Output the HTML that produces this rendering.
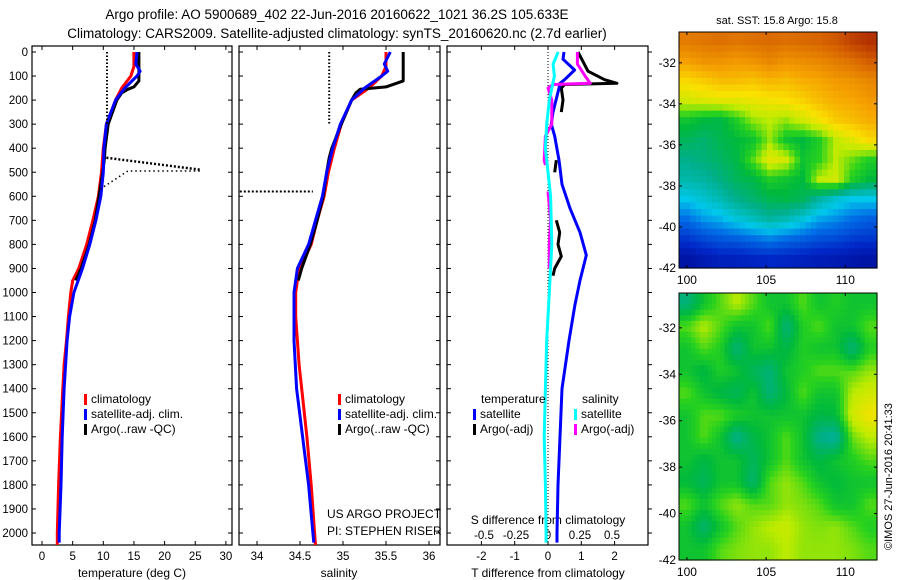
<!DOCTYPE html>
<html><head><meta charset="utf-8">
<style>
html,body{margin:0;padding:0;background:#fff;}
svg{display:block;font-family:"Liberation Sans",sans-serif;}
text{fill:#000;}
</style></head>
<body>
<svg id="fig" width="900" height="580" viewBox="0 0 900 580" xmlns="http://www.w3.org/2000/svg">
<text x="337" y="19" font-size="13.5" text-anchor="middle">Argo profile: AO 5900689_402 22-Jun-2016 20160622_1021 36.2S 105.633E</text>
<text x="337" y="38" font-size="13.5" text-anchor="middle">Climatology: CARS2009. Satellite-adjusted climatology: synTS_20160620.nc (2.7d earlier)</text>
<text x="777" y="24" font-size="11" text-anchor="middle">sat. SST: 15.8 Argo: 15.8</text>
<text x="777" y="302" font-size="11" text-anchor="middle">Altim. SLA: 0.12</text>
<text x="777" y="316" font-size="11" text-anchor="middle">Argo h1000: NaN h2000: NaN</text>
<text transform="translate(892,550) rotate(-90)" font-size="11">©IMOS 27-Jun-2016 20:41:33</text>
<text x="327" y="518" font-size="12">US ARGO PROJECT</text>
<text x="327" y="535" font-size="12">PI: STEPHEN RISER</text>
</svg>
<script>
const depthTicks = [0,100,200,300,400,500,600,700,800,900,1000,1100,1200,1300,1400,1500,1600,1700,1800,1900,2000];
const tempTicks = [0,5,10,15,20,25,30];
const salTicks = [34,34.5,35,35.5,36];
const salTickLabels = ["34","34.5","35","35.5","36"];
const tdTicks = [-2,-1,0,1,2];
const sdTicks = [-0.5,-0.25,0,0.25,0.5];
const sdTickLabels = ["-0.5","-0.25","0","0.25","0.5"];

const climDepth = [0,60,100,150,200,300,400,500,600,700,800,900,950,1000,1100,1200,1300,1400,1600,1800,2000,2050];
const climTemp = [15.0,15.0,14.5,13.0,12.0,10.5,10.0,9.7,9.2,8.3,7.3,6.0,5.0,4.7,4.3,4.0,3.6,3.4,3.0,2.7,2.5,2.5];
const climSal = [35.5,35.5,35.45,35.3,35.1,34.98,34.9,34.83,34.78,34.7,34.63,34.5,34.47,34.45,34.45,34.47,34.49,34.52,34.58,34.63,34.67,34.68];

const satDepth = [0,50,80,100,150,200,300,400,500,600,700,800,900,1000,1100,1200,1400,1600,1800,2000,2040];
const satTemp = [15.5,15.3,16.0,15.5,13.5,12.0,10.5,10.1,10.0,9.6,8.8,7.8,6.6,5.2,4.5,4.1,3.6,3.3,3.1,2.8,2.8];
const satSal = [35.55,35.48,35.52,35.45,35.25,35.1,34.97,34.88,34.81,34.76,34.68,34.6,34.47,34.43,34.43,34.43,34.46,34.53,34.6,34.65,34.66];

const argoDepth = [0,120,145,155,170,200,300,400,440,500,600,700,800,900,950];
const argoTemp = [15.8,15.8,15.0,14.0,13.0,12.2,10.8,10.3,10.2,9.9,9.3,8.7,7.7,6.4,5.5];
const argoSal = [35.7,35.7,35.5,35.2,35.15,35.1,34.98,34.87,34.84,34.81,34.77,34.7,34.62,34.52,34.48];

const dotTdepth1 = [0,300]; const dotTval1 = [10.6,10.6];
const dotTdepth2 = [440,490]; const dotTval2 = [10.5,26];
const dotTdepth3 = [570,495,495]; const dotTval3 = [9.5,14,26];
const dotSdepth1 = [0,300]; const dotSval1 = [34.84,34.84];
const dotSdepth2 = [580,580]; const dotSval2 = [33.8,34.65];

const satTdDepth = [0,30,75,115,130,150,250,300,350,450,550,650,750,845,950,1050,1200,1400,1600,1800,2000,2040];
const satTd = [0.48,0.45,0.8,0.5,0.36,0.33,0.15,0.1,0.2,0.33,0.42,0.66,0.96,1.15,0.96,0.81,0.63,0.42,0.36,0.3,0.27,0.27];
const argoTdDepth = [0,40,80,115,130,135,150,200,250,null,450,500,null,700,750,800,850,900,930];
const argoTd = [0.9,1.05,1.2,1.7,2.07,0.5,0.4,0.45,0.4,null,0.25,0.2,null,0.25,0.35,0.3,0.4,0.2,0.15];
const argoSdDepth = [0,50,100,130,135,150,200,300,350,450,470,null,580,700,800,900];
const argoSd = [0.23,0.23,0.29,0.33,0.04,0.0,0.03,0.03,-0.02,-0.03,-0.02,null,0.0,0.02,0.01,0.01];
const satSdDepth = [0,50,100,200,300,400,600,800,1000,1200,1400,1600,1800,2000,2040];
const satSd = [0.08,0.04,0.05,0.01,-0.01,-0.02,0.02,0.03,0.01,-0.01,-0.02,-0.03,-0.02,-0.015,-0.015];

const sstGrid = [
[0.82,0.83,0.84,0.83,0.84,0.85,0.84,0.85,0.86,0.88,0.92,0.95],
[0.76,0.78,0.78,0.77,0.78,0.8,0.78,0.79,0.8,0.82,0.84,0.87],
[0.68,0.7,0.72,0.72,0.71,0.73,0.72,0.74,0.75,0.77,0.78,0.8],
[0.62,0.63,0.64,0.64,0.65,0.66,0.67,0.69,0.72,0.74,0.75,0.77],
[0.5,0.48,0.47,0.52,0.58,0.6,0.58,0.62,0.66,0.7,0.72,0.74],
[0.45,0.43,0.46,0.48,0.5,0.58,0.5,0.48,0.52,0.6,0.64,0.68],
[0.4,0.42,0.44,0.47,0.55,0.64,0.62,0.5,0.53,0.6,0.56,0.52],
[0.37,0.38,0.41,0.45,0.47,0.52,0.5,0.48,0.6,0.62,0.52,0.48],
[0.3,0.33,0.36,0.4,0.43,0.46,0.47,0.45,0.38,0.33,0.3,0.3],
[0.22,0.26,0.28,0.32,0.35,0.38,0.36,0.32,0.27,0.25,0.22,0.2],
[0.14,0.17,0.19,0.2,0.22,0.24,0.22,0.2,0.18,0.17,0.15,0.14],
[0.06,0.08,0.1,0.1,0.11,0.12,0.11,0.1,0.09,0.08,0.07,0.06]];
const slaGrid = [
[0.42,0.5,0.55,0.6,0.55,0.5,0.5,0.55,0.5,0.52,0.5,0.5],
[0.55,0.6,0.55,0.5,0.5,0.55,0.42,0.52,0.55,0.5,0.5,0.55],
[0.5,0.55,0.52,0.42,0.5,0.5,0.47,0.52,0.5,0.5,0.42,0.52],
[0.5,0.47,0.52,0.5,0.45,0.42,0.5,0.52,0.55,0.55,0.55,0.58],
[0.55,0.5,0.47,0.45,0.5,0.42,0.48,0.55,0.5,0.5,0.6,0.62],
[0.5,0.55,0.55,0.52,0.5,0.5,0.5,0.5,0.47,0.48,0.62,0.66],
[0.5,0.55,0.5,0.4,0.47,0.5,0.55,0.5,0.4,0.38,0.56,0.6],
[0.5,0.47,0.5,0.5,0.45,0.5,0.55,0.5,0.47,0.5,0.52,0.55],
[0.48,0.45,0.5,0.5,0.43,0.55,0.58,0.55,0.5,0.48,0.5,0.5],
[0.55,0.5,0.55,0.58,0.55,0.55,0.58,0.57,0.55,0.5,0.5,0.55],
[0.5,0.43,0.5,0.55,0.58,0.6,0.61,0.58,0.57,0.58,0.55,0.52],
[0.5,0.5,0.55,0.57,0.58,0.58,0.6,0.58,0.58,0.58,0.57,0.55]];
const lonTicks = [100,105,110];
const latTicks = [-32,-34,-36,-38,-40,-42];

const NS = "http://www.w3.org/2000/svg";
const svg = document.getElementById('fig');
function mk(tag, attrs, parent){ const e=document.createElementNS(NS,tag); for(const k in attrs) e.setAttribute(k,attrs[k]); (parent||svg).appendChild(e); return e; }
const yD = d => 52 + 0.2405*d;
const xT = t => 42 + 6.13*t;
const xS = s => 257 + 86*(s-34);
const xTD = v => 548 + 33.3*v;
const xSD = v => 548 + 128*v;

function panel(x0,x1,name){
  const r = mk('rect',{x:x0,y:46,width:x1-x0,height:499,fill:'none',stroke:'#000','stroke-width':1.2});
  
  
}
panel(32,232,'temperature-panel');
panel(239,440,'salinity-panel');
panel(447,648,'difference-panel');

depthTicks.forEach(d=>{
  const y=yD(d);
  mk('line',{x1:32,x2:36,y1:y,y2:y,stroke:'#000'});
  mk('line',{x1:228,x2:232,y1:y,y2:y,stroke:'#000'});
  mk('line',{x1:239,x2:243,y1:y,y2:y,stroke:'#000'});
  mk('line',{x1:436,x2:440,y1:y,y2:y,stroke:'#000'});
  mk('line',{x1:447,x2:451,y1:y,y2:y,stroke:'#000'});
  mk('line',{x1:648,x2:652,y1:y,y2:y,stroke:'#000'});
  const t=mk('text',{x:28,y:y+4,'font-size':11.5,'text-anchor':'end'}); t.textContent=d;
  
  
});
function xticks(vals,labels,fx,name,yy){
  vals.forEach((v,i)=>{
    const x=fx(v);
    mk('line',{x1:x,x2:x,y1:545,y2:541,stroke:'#000'});
    mk('line',{x1:x,x2:x,y1:46,y2:50,stroke:'#000'});
    const t=mk('text',{x:x,y:yy,'font-size':11.5,'text-anchor':'middle'}); t.textContent=labels[i];
    
    
  });
}
xticks(tempTicks,tempTicks.map(String),xT,'temperature-tick-label',560);
xticks(salTicks,salTickLabels,xS,'salinity-tick-label',560);
xticks(tdTicks,tdTicks.map(String),xTD,'t-diff-tick-label',560);
sdTicks.forEach((v,i)=>{
  const t=mk('text',{x:xSD(v),y:539,'font-size':11.5,'text-anchor':'middle'}); t.textContent=sdTickLabels[i];
  
  
});
function label(x,y,txt,name,anchor){ const t=mk('text',{x:x,y:y,'font-size':12,'text-anchor':anchor||'middle'}); t.textContent=txt;
  
   return t;}
label(132,577,'temperature (deg C)','x-axis-title-temperature');
label(339,577,'salinity','x-axis-title-salinity');
label(548,577,'T difference from climatology','x-axis-title-t-diff');
label(548,524,'S difference from climatology','x-axis-title-s-diff');

function line(depths,vals,fx,color,w,name,dash){
  let d='', pen=false;
  for(let i=0;i<depths.length;i++){
    if(depths[i]===null||vals[i]===null){pen=false;continue;}
    d += (pen?'L':'M')+fx(vals[i]).toFixed(1)+','+yD(depths[i]).toFixed(1)+' ';
    pen=true;
  }
  const p=mk('path',{d:d,fill:'none',stroke:color,'stroke-width':w,'stroke-linejoin':'round'});
  if(dash) p.setAttribute('stroke-dasharray',dash);
  
  
}
line(climDepth,climTemp,xT,'#ff0000',3,'climatology-temperature-line');
line(argoDepth,argoTemp,xT,'#000000',3,'argo-temperature-line');
line(satDepth,satTemp,xT,'#0000ff',3,'satellite-temperature-line');
line(dotTdepth1,dotTval1,xT,'#000',2,'qc-temperature-dotted-1','1.5,2');
line(dotTdepth2,dotTval2,xT,'#000',2.5,'qc-temperature-dotted-2','2,2');
line(dotTdepth3,dotTval3,xT,'#000',1.5,'qc-temperature-dotted-3','1.5,3');
line(climDepth,climSal,xS,'#ff0000',3,'climatology-salinity-line');
line(argoDepth,argoSal,xS,'#000000',3,'argo-salinity-line');
line(satDepth,satSal,xS,'#0000ff',3,'satellite-salinity-line');
line(dotSdepth1,dotSval1,xS,'#000',2,'qc-salinity-dotted-1','1.5,2');
line(dotSdepth2,dotSval2,xS,'#000',2,'qc-salinity-dotted-2','2,2');
const zl=mk('line',{x1:548,x2:548,y1:46,y2:545,stroke:'#000','stroke-dasharray':'1,2'});


line(argoTdDepth,argoTd,xTD,'#000',3,'argo-t-diff-line');
line(satTdDepth,satTd,xTD,'#0000ff',3,'satellite-t-diff-line');
line(argoSdDepth,argoSd,xSD,'#ff00ff',3,'argo-s-diff-line');
line(satSdDepth,satSd,xSD,'#00ffff',3,'satellite-s-diff-line');

function legend(x,y,color,txt,name){
  const r=mk('rect',{x:x,y:y-9,width:3,height:11,fill:color});
  
  
  label(x+7,y,txt,name,'start');
}
legend(84,403,'#ff0000','climatology','legend-temp-climatology');
legend(84,418,'#0000ff','satellite-adj. clim.','legend-temp-satellite');
legend(84,433,'#000000','Argo(..raw -QC)','legend-temp-argo');
legend(338,403,'#ff0000','climatology','legend-sal-climatology');
legend(338,418,'#0000ff','satellite-adj. clim.','legend-sal-satellite');
legend(338,433,'#000000','Argo(..raw -QC)','legend-sal-argo');
label(481,403,'temperature','legend-header-temperature','start');
label(582,403,'salinity','legend-header-salinity','start');
legend(473,418,'#0000ff','satellite','legend-t-diff-satellite');
legend(473,433,'#000000','Argo(-adj)','legend-t-diff-argo');
legend(574,418,'#00ffff','satellite','legend-s-diff-satellite');
legend(574,433,'#ff00ff','Argo(-adj)','legend-s-diff-argo');

// custom colormap matching reference
const cmStops = [[0,[0,0,130]],[0.12,[0,40,200]],[0.22,[0,110,230]],[0.3,[0,200,235]],[0.4,[0,175,140]],[0.48,[0,185,60]],[0.53,[40,210,30]],[0.6,[190,235,0]],[0.67,[250,225,0]],[0.76,[245,160,0]],[0.86,[215,100,0]],[1,[160,20,0]]];
function cmap(v){
  v=Math.max(0,Math.min(1,v));
  for(let i=1;i<cmStops.length;i++){
    if(v<=cmStops[i][0]){
      const a=cmStops[i-1],b=cmStops[i],f=(v-a[0])/(b[0]-a[0]);
      const c=a[1].map((x,k)=>Math.round(x+(b[1][k]-x)*f));
      return 'rgb('+c.join(',')+')';
    }
  }
  return 'rgb(160,20,0)';
}
function sample(grid,fr,fc){
  const R=grid.length-1,C=grid[0].length-1;
  fr=Math.max(0,Math.min(R,fr)); fc=Math.max(0,Math.min(C,fc));
  const r0=Math.floor(fr),c0=Math.floor(fc),r1=Math.min(R,r0+1),c1=Math.min(C,c0+1);
  const a=fr-r0,b=fc-c0;
  return grid[r0][c0]*(1-a)*(1-b)+grid[r0][c1]*(1-a)*b+grid[r1][c0]*a*(1-b)+grid[r1][c1]*a*b;
}
function map(grid,x0,y0,w,h,latTop,latBot,name,sub){
  const g=mk('g',{});
  
  
  const rows=grid.length*sub, cols=grid[0].length*sub;
  const cw=w/cols, ch=h/rows;
  for(let ri=0;ri<rows;ri++) for(let ci=0;ci<cols;ci++){
    const v=sample(grid,(ri+0.5)/sub-0.5,(ci+0.5)/sub-0.5);
    const r=mk('rect',{x:(x0+ci*cw).toFixed(2),y:(y0+ri*ch).toFixed(2),width:(cw+0.6).toFixed(2),height:(ch+0.6).toFixed(2),fill:cmap(v)},g);
    
    
  }
  mk('rect',{x:x0,y:y0,width:w,height:h,fill:'none',stroke:'#000','stroke-width':1});
  const lonX = lon => x0 + (lon-99.5)/(112-99.5)*w;
  const latY = lat => y0 + (latTop-lat)/(latTop-latBot)*h;
  lonTicks.forEach(l=>{
    const x=lonX(l);
    mk('line',{x1:x,x2:x,y1:y0+h,y2:y0+h-3,stroke:'#000'});
    mk('line',{x1:x,x2:x,y1:y0,y2:y0+3,stroke:'#000'});
    label(x,y0+h+16,String(l),name+'-lon-label');
  });
  latTicks.forEach(l=>{
    const y=latY(l);
    mk('line',{x1:x0,x2:x0+3,y1:y,y2:y,stroke:'#000'});
    mk('line',{x1:x0+w,x2:x0+w-3,y1:y,y2:y,stroke:'#000'});
    label(x0-3,y+4,String(l),name+'-lat-label','end');
  });
}
map(sstGrid,679,32,198,236,-30.5,-42,'sst-map',3);
map(slaGrid,679,293,198,267,-30.5,-42,'sla-map',4);
</script>
</body></html>
